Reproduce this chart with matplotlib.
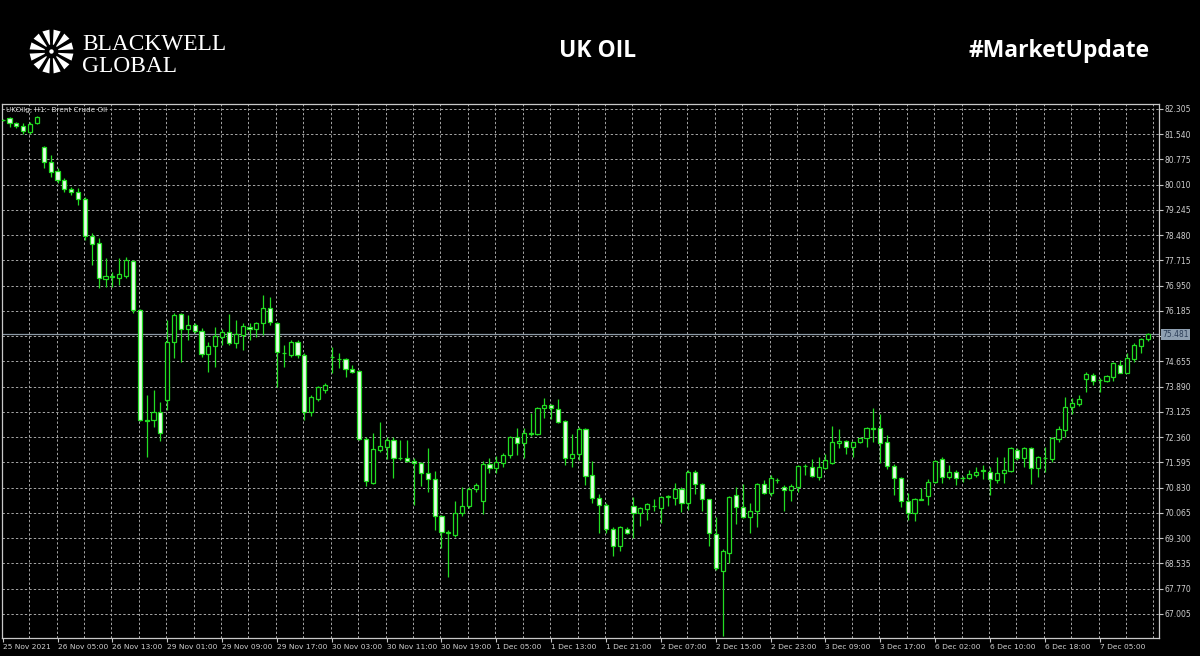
import numpy as np
import matplotlib
matplotlib.use("Agg")
import matplotlib.pyplot as plt
from matplotlib.patches import Polygon, Circle
from matplotlib.transforms import blended_transform_factory

# ---------------- data ----------------
opens = [81.98, 82.02, 81.87, 81.80, 81.62, 81.87, 81.16, 80.71, 80.43, 80.15,
         79.88, 79.80, 79.58, 78.46, 78.25, 77.16, 77.22, 77.19, 77.25, 77.70,
         76.21, 72.89, 72.88, 73.13, 73.49, 75.25, 76.08, 75.64, 75.76, 75.58,
         74.87, 75.13, 75.41, 75.56, 75.20, 75.46, 75.71, 75.64, 75.83, 76.28,
         75.83, 74.91, 74.85, 75.25, 74.85, 73.13, 73.51, 73.79, 74.78, 74.74,
         74.72, 74.42, 74.38, 72.32, 70.98, 71.97, 72.07, 72.27, 71.73, 71.72,
         71.65, 71.57, 71.26, 71.10, 69.97, 69.48, 69.40, 70.05, 70.28, 70.78,
         70.43, 71.54, 71.42, 71.59, 71.81, 72.38, 72.17, 72.46, 72.46, 73.23,
         73.33, 73.20, 72.85, 71.72, 71.84, 72.60, 71.21, 70.51, 70.32, 69.57,
         69.06, 69.57, 70.27, 70.07, 70.17, 70.26, 70.20, 70.56, 70.51, 70.78,
         70.38, 71.32, 70.94, 70.48, 69.43, 68.32, 68.86, 70.61, 70.25, 69.95,
         70.13, 70.93, 70.68, 71.06, 70.84, 70.76, 70.86, 71.48, 71.47, 71.16,
         71.42, 71.59, 72.17, 72.25, 72.07, 72.20, 72.33, 72.63, 72.63, 72.22,
         71.50, 71.11, 70.44, 70.07, 70.47, 70.58, 71.01, 71.69, 71.16, 71.31,
         71.12, 71.11, 71.22, 71.34, 71.31, 71.06, 71.26, 71.34, 71.97, 71.72,
         72.02, 71.42, 71.73, 71.69, 72.30, 72.58, 73.26, 73.37, 74.11, 74.24,
         74.09, 74.07, 74.17, 74.55, 74.31, 74.72, 75.12, 75.33]
highs = [82.00, 82.07, 81.92, 81.87, 81.92, 82.10, 81.18, 80.91, 80.51, 80.20,
         79.95, 79.90, 79.65, 78.54, 78.40, 77.80, 77.37, 77.78, 77.83, 77.73,
         76.24, 73.64, 73.79, 73.44, 75.91, 76.11, 76.11, 76.06, 75.81, 75.66,
         75.25, 75.71, 75.64, 76.08, 75.91, 75.81, 75.81, 75.86, 76.67, 76.62,
         75.86, 75.15, 75.30, 75.30, 74.90, 73.64, 73.91, 74.01, 75.10, 74.92,
         74.75, 74.55, 74.40, 72.38, 72.48, 72.83, 72.36, 72.36, 72.27, 72.27,
         71.72, 71.62, 72.02, 71.35, 70.00, 69.55, 70.44, 70.84, 70.84, 70.96,
         71.64, 71.72, 71.79, 71.87, 72.40, 72.63, 72.63, 73.08, 73.26, 73.54,
         73.36, 73.51, 72.88, 72.46, 72.66, 72.63, 71.65, 70.64, 70.37, 69.65,
         69.67, 69.65, 70.54, 70.23, 70.37, 70.48, 70.58, 70.61, 70.96, 70.86,
         71.37, 71.37, 70.96, 70.50, 69.93, 68.96, 70.58, 70.84, 70.94, 70.36,
         70.96, 71.06, 71.21, 71.11, 70.91, 70.94, 71.52, 71.55, 71.69, 71.77,
         71.85, 72.70, 72.60, 72.27, 72.22, 72.38, 72.66, 73.23, 73.06, 72.43,
         71.55, 71.16, 70.66, 70.51, 70.81, 71.08, 71.67, 71.77, 71.52, 71.36,
         71.18, 71.36, 71.47, 71.52, 71.47, 71.77, 71.77, 72.05, 72.02, 72.05,
         72.05, 71.79, 72.07, 72.38, 72.70, 73.59, 73.54, 73.63, 74.35, 74.29,
         74.14, 74.24, 74.65, 74.70, 74.92, 75.20, 75.36, 75.53]
lows = [81.94, 81.77, 81.74, 81.54, 81.54, 81.85, 80.51, 80.25, 80.05, 79.78,
        79.70, 79.40, 78.34, 77.58, 76.89, 76.92, 76.92, 76.97, 77.17, 76.11,
        72.85, 71.77, 72.68, 72.23, 73.18, 74.75, 74.65, 75.30, 75.51, 74.80,
        74.35, 74.50, 75.15, 75.15, 75.05, 75.00, 75.30, 75.41, 75.46, 75.76,
        73.89, 74.50, 74.80, 74.75, 72.88, 73.00, 73.47, 73.71, 74.31, 74.45,
        74.19, 74.30, 72.27, 70.89, 70.94, 71.92, 71.69, 71.11, 71.67, 71.62,
        70.30, 70.88, 70.71, 69.55, 68.99, 68.13, 69.35, 69.97, 70.20, 70.71,
        70.03, 71.28, 71.28, 71.47, 71.72, 71.82, 71.74, 72.40, 72.43, 72.93,
        72.90, 72.78, 71.52, 71.45, 71.67, 70.91, 70.36, 69.45, 69.45, 68.76,
        68.92, 69.43, 69.30, 69.67, 69.85, 70.13, 69.75, 70.26, 70.31, 70.10,
        70.15, 70.64, 70.13, 69.06, 68.34, 66.35, 68.54, 69.73, 69.90, 69.47,
        69.63, 70.64, 70.58, 70.96, 70.13, 70.44, 70.71, 71.21, 71.14, 71.06,
        71.39, 71.55, 72.02, 71.85, 71.75, 72.17, 72.07, 72.22, 71.59, 71.39,
        70.61, 70.25, 69.85, 69.83, 70.45, 70.30, 70.96, 70.98, 71.08, 70.91,
        71.01, 71.08, 71.16, 71.08, 70.61, 70.98, 70.98, 71.31, 71.67, 71.47,
        70.94, 71.14, 71.29, 71.62, 72.22, 72.38, 73.06, 73.30, 73.74, 73.94,
        73.74, 74.04, 74.07, 74.29, 74.29, 74.65, 74.90, 75.28]
closes = [81.96, 81.87, 81.80, 81.64, 81.84, 82.07, 80.71, 80.41, 80.15, 79.88,
          79.78, 79.57, 78.47, 78.21, 77.17, 77.23, 77.23, 77.29, 77.73, 76.21,
          72.88, 72.86, 73.13, 72.50, 75.25, 76.06, 75.64, 75.76, 75.58, 74.87,
          75.13, 75.43, 75.56, 75.20, 75.49, 75.73, 75.64, 75.83, 76.28, 75.84,
          74.95, 74.90, 75.25, 74.85, 73.13, 73.59, 73.87, 73.94, 74.80, 74.72,
          74.42, 74.35, 72.32, 71.04, 71.99, 72.09, 72.27, 71.72, 71.72, 71.65,
          71.57, 71.28, 71.10, 69.97, 69.48, 69.47, 70.07, 70.28, 70.80, 70.90,
          71.54, 71.42, 71.61, 71.81, 72.38, 72.17, 72.48, 72.50, 73.23, 73.33,
          73.23, 72.83, 71.74, 71.85, 72.60, 71.18, 70.51, 70.30, 69.57, 69.06,
          69.63, 69.47, 70.07, 70.20, 70.33, 70.27, 70.54, 70.57, 70.78, 70.38,
          71.32, 70.94, 70.48, 69.45, 68.39, 68.92, 70.56, 70.23, 69.95, 70.13,
          70.93, 70.68, 71.11, 71.07, 70.76, 70.88, 71.49, 71.49, 71.18, 71.45,
          71.67, 72.22, 72.25, 72.07, 72.20, 72.35, 72.63, 72.62, 72.19, 71.50,
          71.11, 70.44, 70.07, 70.48, 70.50, 71.01, 71.65, 71.16, 71.31, 71.11,
          71.11, 71.24, 71.31, 71.35, 71.08, 71.26, 71.36, 72.02, 71.72, 72.02,
          71.42, 71.75, 71.74, 72.35, 72.60, 73.26, 73.39, 73.51, 74.27, 74.07,
          74.10, 74.21, 74.60, 74.31, 74.75, 75.15, 75.33, 75.48]

price_ticks = [82.305, 81.540, 80.775, 80.010, 79.245, 78.480, 77.715, 76.950,
               76.185, 75.420, 74.655, 73.890, 73.125, 72.360, 71.595, 70.830,
               70.065, 69.300, 68.535, 67.770, 67.005]
price_labels = ["82.305", "81.540", "80.775", "80.010", "79.245", "78.480", "77.715",
                "76.950", "76.185", "", "74.655", "73.890", "73.125", "72.360",
                "71.595", "70.830", "70.065", "69.300", "68.535", "67.770", "67.005"]
time_labels = ["25 Nov 2021", "26 Nov 05:00", "26 Nov 13:00", "29 Nov 01:00",
               "29 Nov 09:00", "29 Nov 17:00", "30 Nov 03:00", "30 Nov 11:00",
               "30 Nov 19:00", "1 Dec 05:00", "1 Dec 13:00", "1 Dec 21:00",
               "2 Dec 07:00", "2 Dec 15:00", "2 Dec 23:00", "3 Dec 09:00",
               "3 Dec 17:00", "6 Dec 02:00", "6 Dec 10:00", "6 Dec 18:00",
               "7 Dec 05:00"]
current_price = 75.481
symbol_text = "UKOilg, H1:  Brent Crude Oil"

# ---------------- figure ----------------
W, H = 1200, 656
fig = plt.figure(figsize=(W / 100, H / 100), dpi=100, facecolor="black")

# header (pixel coordinates)
hdr = fig.add_axes([0, 1 - 100 / H, 1, 100 / H])
hdr.set_xlim(0, W)
hdr.set_ylim(100, 0)
hdr.axis("off")
hdr.set_facecolor("black")

cx, cy = 51.5, 51.5
for k in range(12):
    th = np.deg2rad(15 + 30 * k)
    r_in, r_out = 7.0, 22.0
    a_in, a_out = np.deg2rad(4.0), np.deg2rad(9.5)
    pts = [(cx + r_in * np.cos(th - a_in), cy - r_in * np.sin(th - a_in)),
           (cx + r_out * np.cos(th - a_out), cy - r_out * np.sin(th - a_out)),
           (cx + r_out * np.cos(th + a_out), cy - r_out * np.sin(th + a_out)),
           (cx + r_in * np.cos(th + a_in), cy - r_in * np.sin(th + a_in))]
    hdr.add_patch(Polygon(pts, closed=True, facecolor="white", edgecolor="none"))
hdr.add_patch(Circle((cx, cy), 2.2, facecolor="white", edgecolor="none"))

hdr.text(82, 49.5, "BLACKWELL", color="white", fontsize=16.8,
         family="Liberation Serif", ha="left", va="baseline")
hdr.text(82, 71.5, "GLOBAL", color="white", fontsize=16.8,
         family="Liberation Serif", ha="left", va="baseline")
hdr.text(598, 51, "UK OIL", color="white", fontsize=16.5, family="Open Sans",
         weight="bold", ha="center", va="center")
hdr.text(1059, 51, "#MarketUpdate", color="white", fontsize=16.5, family="Open Sans",
         weight="bold", ha="center", va="center")

# chart axes
ax_l, ax_r, ax_t, ax_b = 2, 1159, 104, 638
ax = fig.add_axes([ax_l / W, 1 - ax_b / H, (ax_r - ax_l) / W, (ax_b - ax_t) / H])
ax.set_facecolor("black")

px_per_bar = 6.856
x0_px = 2.7
xmin = (ax_l - x0_px) / px_per_bar
xmax = (ax_r - x0_px) / px_per_bar
ppu = 33.0
ymax = 82.305 + (109 - ax_t) / ppu
ymin = 82.305 - (ax_b - 109) / ppu
ax.set_xlim(xmin, xmax)
ax.set_ylim(ymin, ymax)

grid_c = "#a8a8a8"
dash = (0, (2.4, 2.2))
n = len(opens)
for p in price_ticks:
    ax.axhline(p, color=grid_c, lw=0.7, ls=dash, zorder=1)
for b in range(4, int(xmax) + 1, 4):
    ax.axvline(b - 0.15, color=grid_c, lw=0.7, ls=dash, zorder=1)

ax.axhline(current_price, color="#8d9aa6", lw=0.9, zorder=1.5)

green = "#22dd22"
bear_fill = "#e8ffe8"
idx = np.arange(n)
o = np.array(opens); c = np.array(closes)
hi = np.array(highs); lo = np.array(lows)
ax.vlines(idx, lo, hi, color=green, lw=0.9, zorder=2)
bottoms = np.minimum(o, c)
heights = np.maximum(np.abs(c - o), 0.012)
fills = [bear_fill if c[i] < o[i] else "black" for i in range(n)]
ax.bar(idx, heights, bottom=bottoms, width=0.6, color=fills,
       edgecolor=green, linewidth=0.9, zorder=3)

# frame
for s in ax.spines.values():
    s.set_color("#c8c8c8")
    s.set_linewidth(0.9)

ax.yaxis.tick_right()
ax.set_yticks(price_ticks)
ax.set_yticklabels(price_labels)
ax.set_xticks(np.arange(0, 8 * len(time_labels), 8))
ax.set_xticklabels(time_labels)
ax.tick_params(axis="y", colors="#c8c8c8", labelcolor="#d0d0d0", length=3,
               width=0.8, labelsize=5.5, pad=1)
ax.tick_params(axis="x", colors="#c8c8c8", labelcolor="#d0d0d0", length=3,
               width=0.8, labelsize=5.4, pad=1)
for lbl in ax.get_xticklabels():
    lbl.set_ha("left")

# current price label
trans = blended_transform_factory(ax.transAxes, ax.transData)
ax.text(1.0 + 3 / (ax_r - ax_l), current_price, "75.481", transform=trans,
        fontsize=5.5, color="#2c3e58", ha="left", va="center",
        bbox=dict(boxstyle="square,pad=0.15", facecolor="#8fa0b2", edgecolor="none"),
        zorder=5, clip_on=False)

ax.text(4 / (ax_r - ax_l), 1 - 6 / (ax_b - ax_t), symbol_text, transform=ax.transAxes,
        fontsize=5.2, color="#d8d8d8", ha="left", va="center", zorder=6)

fig.savefig("out.png", dpi=100, facecolor="black")
